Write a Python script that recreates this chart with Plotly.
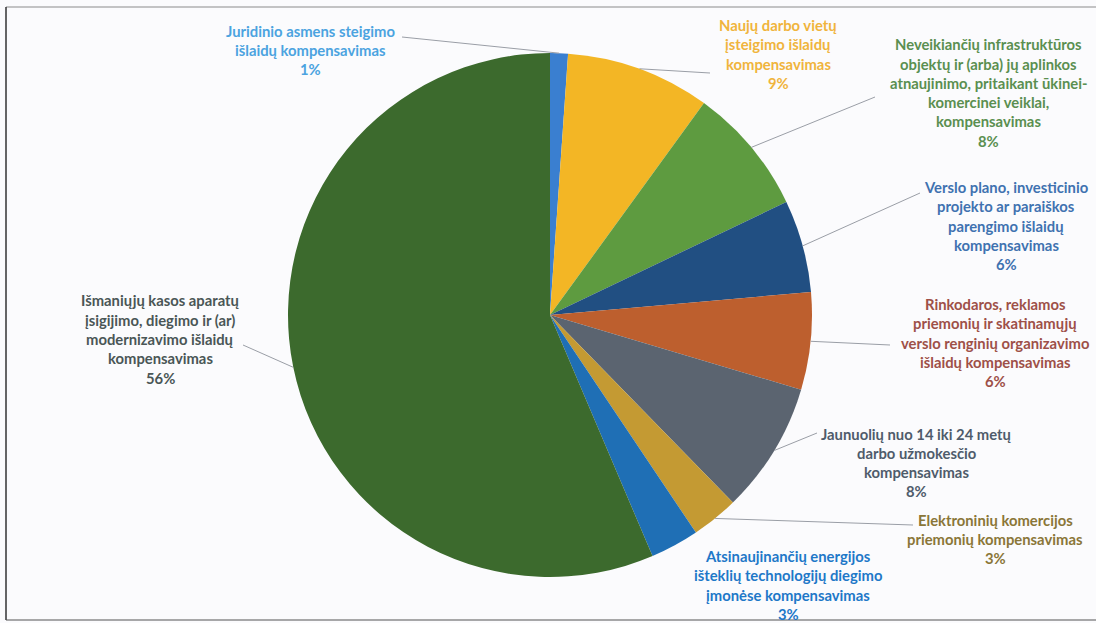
import math
import plotly.graph_objects as go

W, H = 1096, 623

# ---- data ----
categories = [
    "Juridinio asmens steigimo išlaidų kompensavimas",
    "Naujų darbo vietų įsteigimo išlaidų kompensavimas",
    "Neveikiančių infrastruktūros objektų ir (arba) jų aplinkos atnaujinimo, pritaikant ūkinei-komercinei veiklai, kompensavimas",
    "Verslo plano, investicinio projekto ar paraiškos parengimo išlaidų kompensavimas",
    "Rinkodaros, reklamos priemonių ir skatinamųjų verslo renginių organizavimo išlaidų kompensavimas",
    "Jaunuolių nuo 14 iki 24 metų darbo užmokesčio kompensavimas",
    "Elektroninių komercijos priemonių kompensavimas",
    "Atsinaujinančių energijos išteklių technologijų diegimo įmonėse kompensavimas",
    "Išmaniųjų kasos aparatų įsigijimo, diegimo ir (ar) modernizavimo išlaidų kompensavimas",
]
values = [1.1, 8.9, 7.9, 5.7, 6.0, 8.1, 2.9, 3.0, 56.4]
label_lines = [
    ["Juridinio asmens steigimo", "išlaidų kompensavimas"],
    ["Naujų darbo vietų", "įsteigimo išlaidų", "kompensavimas"],
    ["Neveikiančių infrastruktūros", "objektų ir (arba) jų aplinkos",
     "atnaujinimo, pritaikant ūkinei-", "komercinei veiklai,", "kompensavimas"],
    ["Verslo plano, investicinio", "projekto ar paraiškos", "parengimo išlaidų", "kompensavimas"],
    ["Rinkodaros, reklamos", "priemonių ir skatinamųjų", "verslo renginių organizavimo",
     "išlaidų kompensavimas"],
    ["Jaunuolių nuo 14 iki 24 metų", "darbo užmokesčio", "kompensavimas"],
    ["Elektroninių komercijos", "priemonių kompensavimas"],
    ["Atsinaujinančių energijos", "išteklių technologijų diegimo", "įmonėse kompensavimas"],
    ["Išmaniųjų kasos aparatų", "įsigijimo, diegimo ir (ar)", "modernizavimo išlaidų",
     "kompensavimas"],
]

# ---- style ----
slice_colors = ["#3a7fd0", "#f3b625", "#5e9b40", "#214f82", "#bd5f2e",
                "#5b6470", "#c49a33", "#1f6fb5", "#3c6a2d"]
text_colors = ["#4ba3e0", "#f0b43c", "#5a8f50", "#3f72b0", "#9e5048",
               "#4f5b6b", "#8a7638", "#1e78c8", "#4a5656"]
# label block centres (px) and leader line end points (px, None = no line)
label_centers = [(310, 50), (778, 54), (988, 92.5), (1006, 225.5), (995, 342.5),
                 (916, 462.5), (995, 539), (788, 585), (160, 339)]
line_ends = [(402, 37), (710, 73), (875, 97), (920, 193), (890, 345),
             (817, 433), (913, 525), None, (243, 345)]
CX, CY, R = 550, 315, 262
LINE_H = 19.3
FONT = "Lato"
FSIZE = 14.8

fig = go.Figure(go.Pie(
    labels=categories, values=values, sort=False, direction="clockwise",
    rotation=0, textinfo="none", hoverinfo="label+percent",
    marker=dict(colors=slice_colors, line=dict(width=0)),
    domain=dict(x=[(CX - R) / W, (CX + R) / W], y=[1 - (CY + R) / H, 1 - (CY - R) / H]),
    showlegend=False,
))

total = sum(values)
annotations = []
shapes = []
cum = 0.0
for i, v in enumerate(values):
    mid = (cum + v / 2) / total * 2 * math.pi
    cum += v
    pct = f"{round(v / total * 100)}%"
    lines = label_lines[i] + [pct]
    cx, cy = label_centers[i]
    n = len(lines)
    for k, t in enumerate(lines):
        py = cy + (k - (n - 1) / 2) * LINE_H
        annotations.append(dict(
            x=cx / W, y=1 - py / H, xref="paper", yref="paper", text=t,
            showarrow=False, xanchor="center", yanchor="middle",
            font=dict(family=FONT, size=FSIZE, color=text_colors[i], weight="bold"),
        ))
    if line_ends[i] is not None:
        rx = CX + R * math.sin(mid)
        ry = CY - R * math.cos(mid)
        ex, ey = line_ends[i]
        shapes.append(dict(type="line", xref="paper", yref="paper",
                           x0=rx / W, y0=1 - ry / H, x1=ex / W, y1=1 - ey / H,
                           line=dict(color="#9a9ea6", width=1)))

# frame lines (scan border)
shapes += [
    dict(type="line", xref="paper", yref="paper", x0=6 / W, x1=1, y0=1 - 7 / H, y1=1 - 7 / H,
         line=dict(color="#8c8c8c", width=1.2)),
    dict(type="line", xref="paper", yref="paper", x0=6 / W, x1=6 / W, y0=1 - 7 / H, y1=1 - 620 / H,
         line=dict(color="#333333", width=1.5)),
    dict(type="line", xref="paper", yref="paper", x0=6 / W, x1=1, y0=1 - 620 / H, y1=1 - 620 / H,
         line=dict(color="#555555", width=1.2)),
]

fig.update_layout(
    width=W, height=H, margin=dict(l=0, r=0, t=0, b=0),
    paper_bgcolor="#fbfbfd", plot_bgcolor="#fbfbfd",
    annotations=annotations, shapes=shapes,
)
fig.write_html(
    "out.html",
    config={"displayModeBar": False},
    post_script="document.body.style.margin='0';document.body.style.overflow='hidden';",
)
